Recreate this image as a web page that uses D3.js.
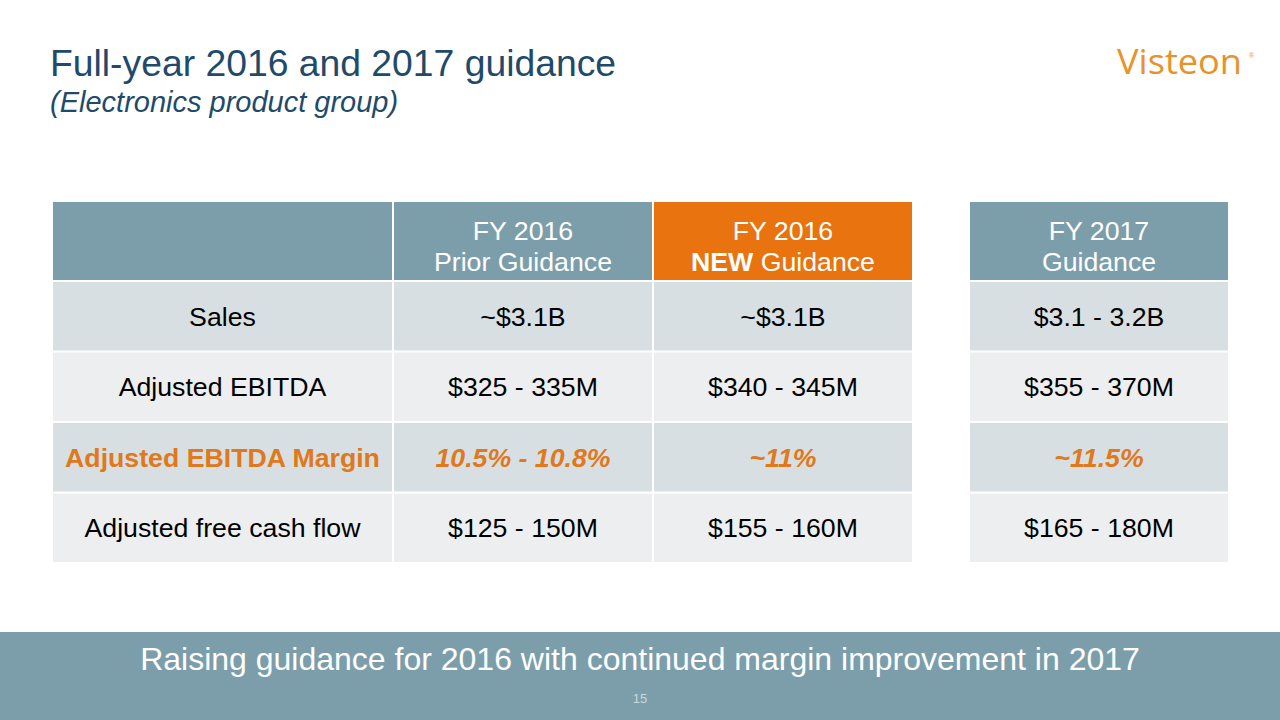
<!DOCTYPE html>
<html><head><meta charset="utf-8">
<script src="https://cdn.jsdelivr.net/npm/d3@7"></script>
<style>html,body{margin:0;padding:0;background:#fff;}svg{display:block;font-family:"Liberation Sans",Arial,sans-serif;}</style>
</head><body>
<svg id="c" width="1280" height="720"></svg>
<script>
const title = "Full-year 2016 and 2017 guidance";
const subtitle = "(Electronics product group)";
const headerLine1 = ["", "FY 2016", "FY 2016", "FY 2017"];
const headerLine2 = ["", "Prior Guidance", "Guidance", "Guidance"];
const headerBold = ["", "", "NEW", ""];
const metrics = ["Sales", "Adjusted EBITDA", "Adjusted EBITDA Margin", "Adjusted free cash flow"];
const priorGuidance2016 = ["~$3.1B", "$325 - 335M", "10.5% - 10.8%", "$125 - 150M"];
const newGuidance2016 = ["~$3.1B", "$340 - 345M", "~11%", "$155 - 160M"];
const guidance2017 = ["$3.1 - 3.2B", "$355 - 370M", "~11.5%", "$165 - 180M"];
const highlightRow = "Adjusted EBITDA Margin";
const banner = "Raising guidance for 2016 with continued margin improvement in 2017";
const pageNumber = "15";

const svg = d3.select("#c");
const C = {blue:"#7c9eab", orange:"#e8730f", text:"#e0781c", title:"#1f4a6a", rowA:"#d7dfe2", rowB:"#eceeef"};
const FS = 26.7;

// Title
svg.append("text").attr("x",50).attr("y",76).attr("font-size",37.3).attr("fill",C.title).text(title);
svg.append("text").attr("x",50).attr("y",112).attr("font-size",29).attr("font-style","italic").attr("fill",C.title).text(subtitle);
// Logo
svg.append("text").attr("x",1117).attr("y",74).attr("font-family","'Open Sans',sans-serif").attr("font-weight",400).attr("font-size",35).attr("fill","#e8922a").attr("textLength",125).attr("lengthAdjust","spacingAndGlyphs").text("Visteon");
svg.append("text").attr("x",1249).attr("y",58).attr("font-size",7).attr("fill","#e8922a").text("®");

// Columns via ordinal scales, rows via band scale
const colKeys = ["label","prior","new","y2017"];
const colWidths = [339, 258, 258, 258];
const colX = [53, 394, 654, 970];
const xs = d3.scaleOrdinal().domain(colKeys).range(colX);
const ws = d3.scaleOrdinal().domain(colKeys).range(colWidths);
const y = d3.scaleBand().domain(metrics).range([282, 562]).paddingInner(2/70).paddingOuter(0);
const headerTop = 202, headerH = 78;
const cols = [metrics, priorGuidance2016, newGuidance2016, guidance2017];

// Header
const hdr = svg.append("g");
colKeys.forEach((k,i)=>{
  hdr.append("rect").attr("x",xs(k)).attr("y",headerTop).attr("width",ws(k)).attr("height",headerH)
    .attr("fill", k==="new"?C.orange:C.blue);
  if(headerLine1[i]){
    const cx = xs(k)+ws(k)/2;
    hdr.append("text").attr("x",cx).attr("y",240).attr("text-anchor","middle").attr("font-size",FS).attr("fill","#fff").text(headerLine1[i]);
    const t = hdr.append("text").attr("x",cx).attr("y",271).attr("text-anchor","middle").attr("font-size",FS).attr("fill","#fff");
    if(headerBold[i]){ t.append("tspan").attr("font-weight","bold").text(headerBold[i]+" "); }
    t.append("tspan").text(headerLine2[i]);
  }
});

// Body
const body = svg.append("g");
metrics.forEach((m,r)=>{
  colKeys.forEach((k,i)=>{
    body.append("rect").attr("x",xs(k)).attr("y",y(m)).attr("width",ws(k)).attr("height",y.bandwidth())
      .attr("fill", r%2===0?C.rowA:C.rowB);
    const hl = m===highlightRow;
    body.append("text").attr("x",xs(k)+ws(k)/2).attr("y",y(m)+y.bandwidth()/2+9.5)
      .attr("text-anchor","middle").attr("font-size",FS)
      .attr("fill", hl?C.text:"#000")
      .attr("font-weight", hl?"bold":"normal")
      .attr("font-style", hl&&i>0?"italic":"normal")
      .text(cols[i][r]);
  });
});

// Banner
svg.append("rect").attr("x",0).attr("y",632).attr("width",1280).attr("height",88).attr("fill",C.blue);
svg.append("text").attr("x",640).attr("y",670).attr("text-anchor","middle").attr("font-size",32).attr("fill","#fff").text(banner);
svg.append("text").attr("x",640).attr("y",703).attr("text-anchor","middle").attr("font-size",13).attr("fill","#c9d8de").text(pageNumber);
</script>
</body></html>
